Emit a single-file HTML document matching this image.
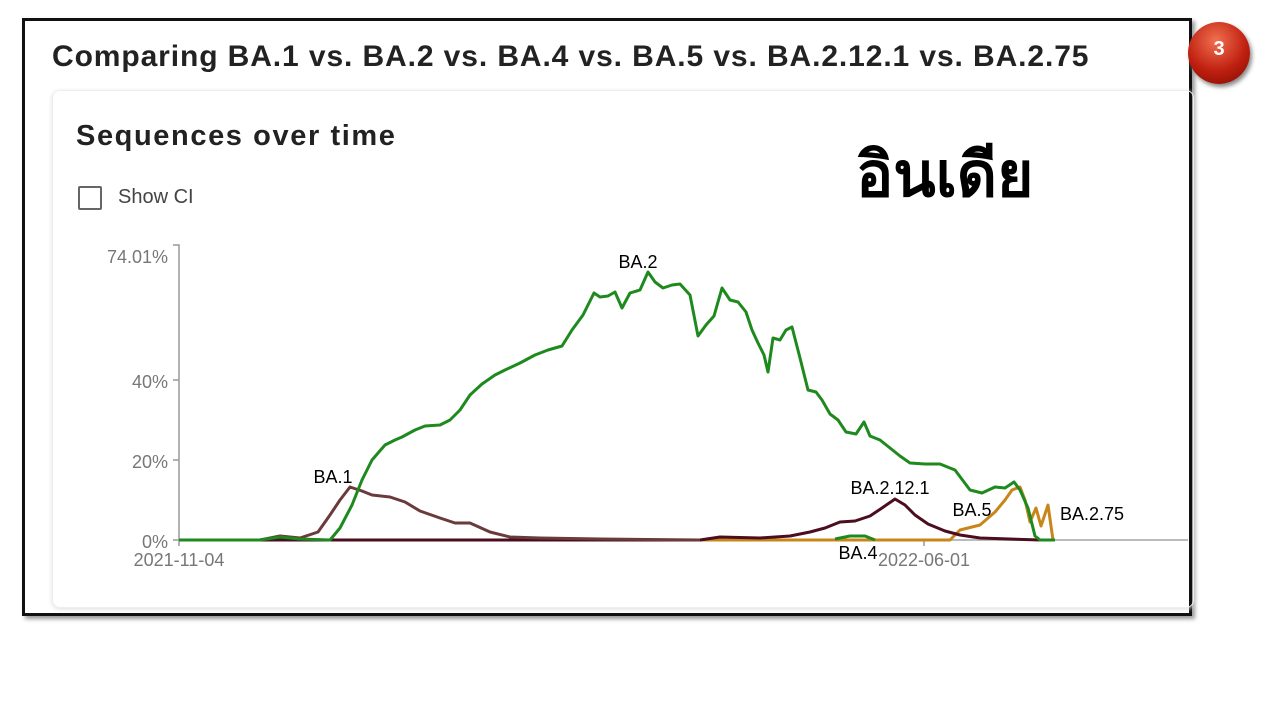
<!DOCTYPE html>
<html><head><meta charset="utf-8"><style>
body{margin:0;width:1280px;height:720px;background:#fff;position:relative;overflow:hidden;font-family:"Liberation Sans",sans-serif}
.frame{position:absolute;left:22px;top:18px;width:1164px;height:592px;border:3px solid #111;box-shadow:3px 3px 4px #999}
.card{position:absolute;left:52px;top:90px;width:1140px;height:516px;border:1px solid #eee;border-radius:8px;box-shadow:0 1px 4px #ddd}
.t1{position:absolute;left:52px;top:40px;font-size:30px;font-weight:bold;color:#222;letter-spacing:0.9px}
.t2{position:absolute;left:76px;top:120px;font-size:29px;font-weight:bold;color:#222;letter-spacing:1.6px}
.cb{position:absolute;left:78px;top:186px;width:20px;height:20px;border:2px solid #666;border-radius:2px}
.ci{position:absolute;left:118px;top:186px;font-size:20px;color:#444}
.th{position:absolute;left:856px;top:126px;font-size:62px;font-weight:bold;font-family:"Liberation Sans","Noto Sans CJK SC",sans-serif;color:#000}
.badge{position:absolute;left:1188px;top:22px;width:62px;height:62px;border-radius:50%;background:radial-gradient(circle at 45% 30%,#f07050,#c02010 55%,#7a0a00);box-shadow:2px 3px 4px #888;color:#fff;font-size:20px;font-weight:bold;text-align:center;line-height:54px}
</style></head><body>
<div class="frame"></div>
<div class="card"></div>
<div class="t1">Comparing BA.1 vs. BA.2 vs. BA.4 vs. BA.5 vs. BA.2.12.1 vs. BA.2.75</div>
<div class="t2">Sequences over time</div>
<div class="cb"></div><div class="ci">Show CI</div>
<div class="th">อินเดีย</div>
<div class="badge">3</div>
<svg width="1280" height="720" style="position:absolute;left:0;top:0" font-family="Liberation Sans, sans-serif">
<g fill="#777" font-size="18" text-anchor="end">
<text x="168" y="263">74.01%</text><text x="168" y="388">40%</text><text x="168" y="468">20%</text><text x="168" y="548">0%</text>
</g>
<g stroke="#999" stroke-width="1.5" fill="none">
<path d="M173 245H179V540"/><path d="M173 380H179M173 460H179M173 540H179"/>
<path d="M179 540H1188" stroke="#bbb" stroke-width="2"/>
<path d="M179 540V546M924 540V546"/>
</g>
<g fill="#777" font-size="18" text-anchor="middle"><text x="179" y="566">2021-11-04</text><text x="924" y="566">2022-06-01</text></g>
<g fill="none" stroke-width="3" stroke-linejoin="round">
<path stroke="#c8861a" d="M179 540H950L960 530L980 525L995 512L1005 500L1012 490L1020 487L1025 500L1030 522L1036 508L1041 526L1048 505L1053 540"/>
<path stroke="#4a0e1e" d="M179 540H700L720 537L760 538L790 536L810 532L825 528L840 522L855 521L870 516L882 508L895 499L905 505L915 515L928 524L945 531L960 535L980 538L1040 540"/>
<path stroke="#6b3a3a" d="M179 540H260L280 536L300 538L318 532L330 515L340 500L350 487L362 491L372 495L390 497L405 502L420 511L440 518L455 523L470 523L490 532L510 537L540 538L600 539L700 540"/>
<path stroke="#1e8a1e" d="M179 540H260L280 537L300 539L330 540L340 528L352 505L362 480L372 460L385 445L395 440L402 437L415 430L425 426L440 425L450 420L460 410L470 395L482 384L495 375L505 370L520 363L535 355L548 350L562 346L572 330L583 315L594 293L600 297L608 296L615 292L622 308L630 293L640 290L648 272L655 282L663 288L672 285L680 284L690 295L698 336L706 325L714 316L722 288L730 300L738 302L746 312L752 330L758 343L764 355L768 372L773 338L780 340L786 330L792 327L800 358L808 390L816 392L822 400L830 414L838 420L846 432L856 434L864 422L870 436L880 440L890 448L900 456L910 463L925 464L940 464L955 470L970 490L982 493L995 487L1005 488L1014 482L1020 490L1028 508L1035 536L1040 540L1055 540"/>
<path stroke="#1e8a1e" d="M835 539L850 536L865 536L875 540"/>
</g>
<g fill="#000" font-size="18" text-anchor="middle">
<text x="638" y="268">BA.2</text><text x="333" y="483">BA.1</text><text x="890" y="494">BA.2.12.1</text>
<text x="972" y="516">BA.5</text><text x="1092" y="520">BA.2.75</text><text x="858" y="559">BA.4</text>
</g>
</svg>
</body></html>
